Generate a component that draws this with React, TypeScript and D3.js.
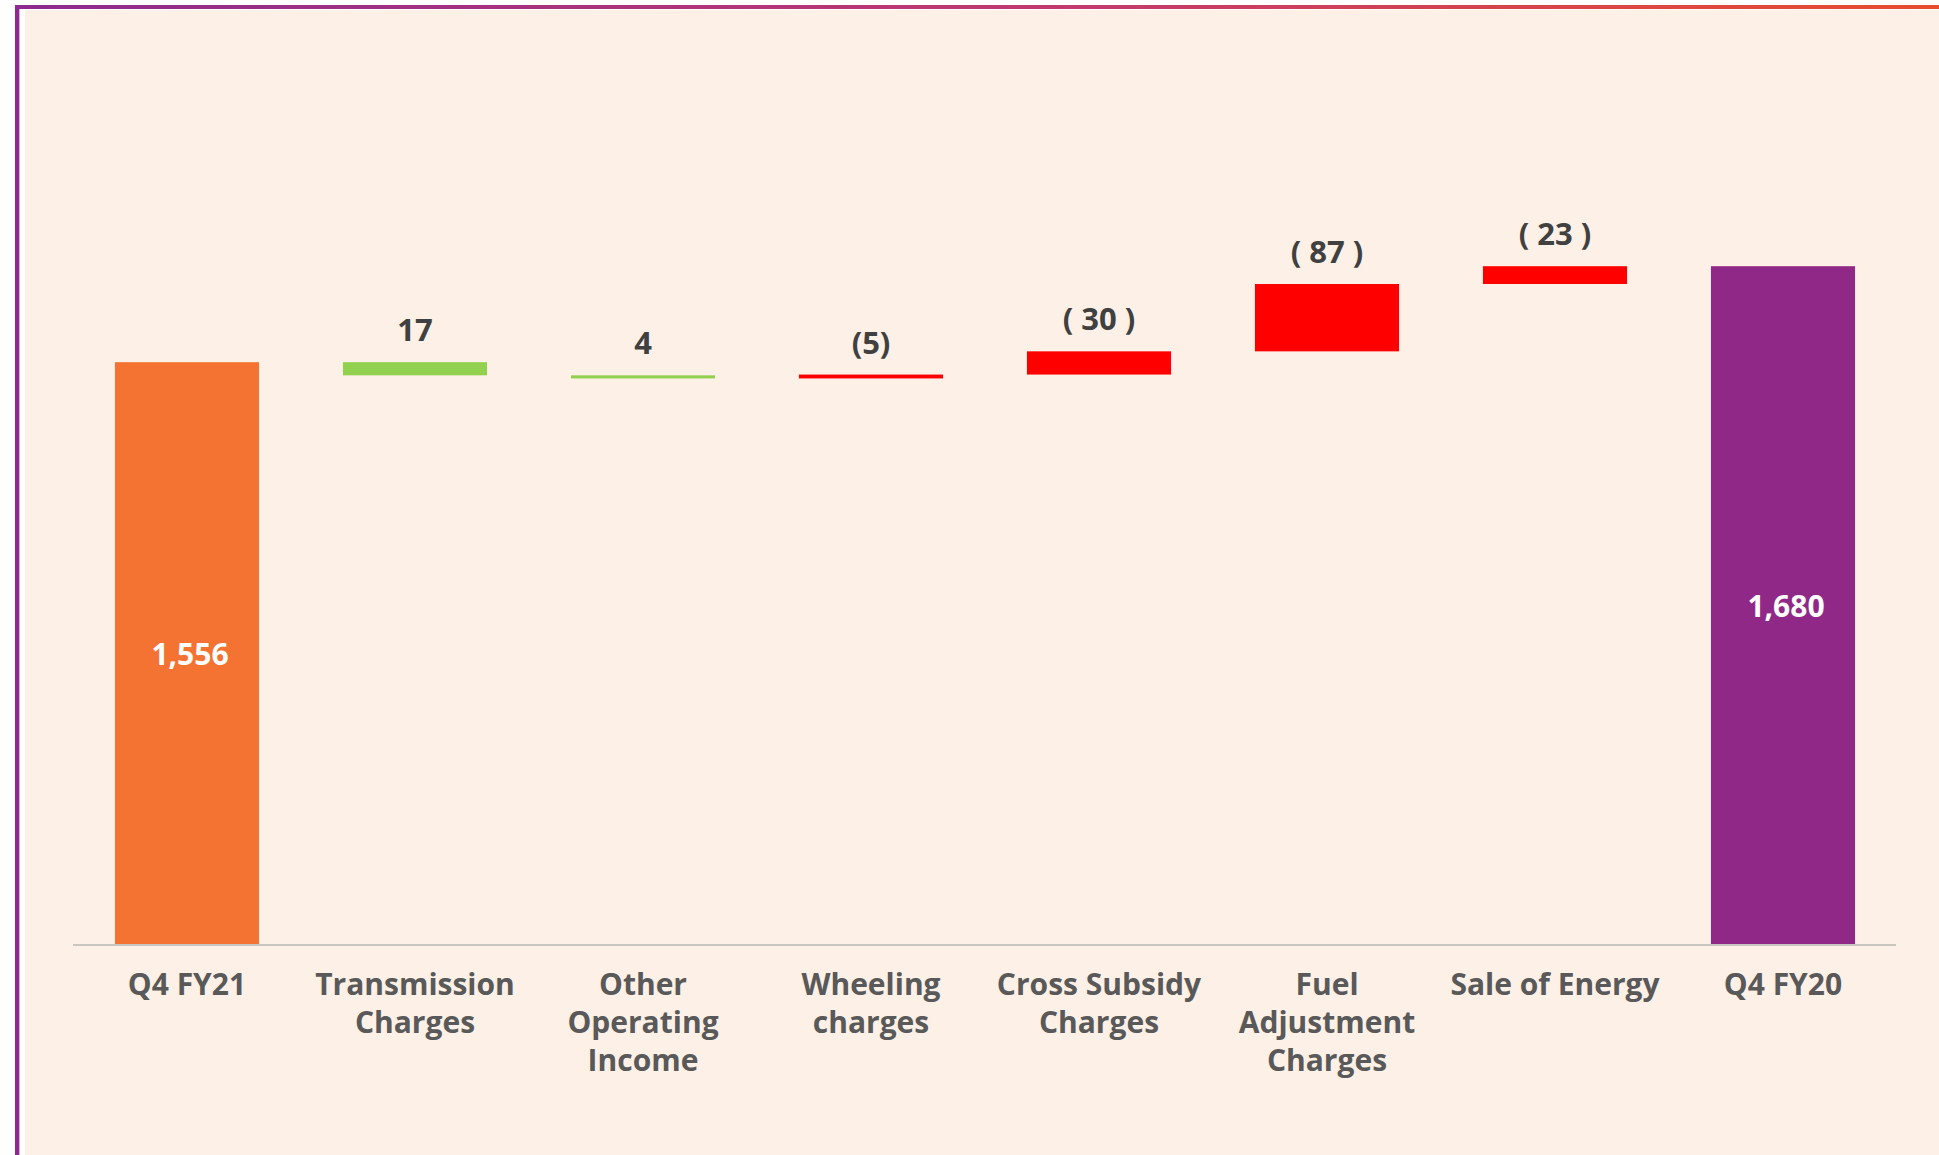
import React, { useRef, useEffect } from "react";
import * as d3 from "d3";

// bridge from Q4 FY20 (right) back to Q4 FY21 (left)
export const categories = [
  "Q4 FY21",
  "Transmission\nCharges",
  "Other\nOperating\nIncome",
  "Wheeling\ncharges",
  "Cross Subsidy\nCharges",
  "Fuel\nAdjustment\nCharges",
  "Sale of Energy",
  "Q4 FY20",
];
export const startTotal = 1556; // Q4 FY21
export const endTotal = 1680; // Q4 FY20
export const changes = [17, 4, -5, -30, -87, -23];
export const changeLabels = ["17", "4", "(5)", "( 30 )", "( 87 )", "( 23 )"];
export const totalLabels = ["1,556", "1,680"];

const FONT = "'Open Sans', sans-serif";

const App = () => {
  const ref = useRef<SVGSVGElement>(null);

  useEffect(() => {
    const width = 1939;
    const height = 1155;
    const baseY = 945;

    const svg = d3.select(ref.current);
    svg.selectAll("*").remove();
    svg.attr("width", width).attr("height", height);

    const defs = svg.append("defs");
    const grad = defs
      .append("linearGradient")
      .attr("id", "topline")
      .attr("x1", "0%")
      .attr("x2", "100%");
    grad.append("stop").attr("offset", "0%").attr("stop-color", "#8e2a8e");
    grad.append("stop").attr("offset", "55%").attr("stop-color", "#c23a6e");
    grad.append("stop").attr("offset", "100%").attr("stop-color", "#e94c2e");

    // frame
    svg.append("rect").attr("width", width).attr("height", height).attr("fill", "#ffffff");
    svg
      .append("rect")
      .attr("x", 25)
      .attr("y", 10)
      .attr("width", width - 25)
      .attr("height", height - 10)
      .attr("fill", "#fdf0e6");
    svg
      .append("rect")
      .attr("x", 15)
      .attr("y", 5)
      .attr("width", width - 15)
      .attr("height", 4)
      .attr("fill", "url(#topline)");
    svg.append("rect").attr("x", 15).attr("y", 5).attr("width", 4).attr("height", height).attr("fill", "#8e2a8e");
    svg.append("rect").attr("x", 19).attr("y", 9).attr("width", 1).attr("height", height).attr("fill", "#d9aed6");

    const x = d3.scaleBand().domain(categories).range([73, 1897]).paddingInner(0.368).paddingOuter(0.184);
    const y = d3.scaleLinear().domain([803, 1803]).range([baseY, 171]);

    // build waterfall from the right end
    const bars: { cat: string; lo: number; hi: number; color: string; label: string; total: boolean }[] = [];
    let level = endTotal;
    const mid: typeof bars = [];
    for (let i = changes.length - 1; i >= 0; i--) {
      const next = level + changes[i];
      mid.unshift({
        cat: categories[i + 1],
        lo: Math.min(level, next),
        hi: Math.max(level, next),
        color: changes[i] > 0 ? "#92d050" : "#ff0000",
        label: changeLabels[i],
        total: false,
      });
      level = next;
    }
    bars.push({ cat: categories[0], lo: 803, hi: startTotal, color: "#f47232", label: totalLabels[0], total: true });
    bars.push(...mid);
    bars.push({ cat: categories[7], lo: 803, hi: endTotal, color: "#902888", label: totalLabels[1], total: true });

    const g = svg.append("g");

    g.selectAll("rect.bar")
      .data(bars)
      .enter()
      .append("rect")
      .attr("class", "bar")
      .attr("x", (d) => x(d.cat)!)
      .attr("width", x.bandwidth())
      .attr("y", (d) => y(d.hi))
      .attr("height", (d) => Math.max(1, y(d.lo) - y(d.hi)))
      .attr("fill", (d) => d.color);

    // axis line
    svg
      .append("line")
      .attr("x1", 73)
      .attr("x2", 1896)
      .attr("y1", baseY)
      .attr("y2", baseY)
      .attr("stroke", "#c9c6c2")
      .attr("stroke-width", 2);

    // value labels
    g.selectAll("text.val")
      .data(bars.filter((d) => !d.total))
      .enter()
      .append("text")
      .attr("class", "val")
      .attr("x", (d) => x(d.cat)! + x.bandwidth() / 2)
      .attr("y", (d) => y(d.hi) - 21)
      .attr("text-anchor", "middle")
      .style("font-family", FONT)
      .style("font-size", "31px")
      .style("font-weight", "bold")
      .attr("fill", "#404040")
      .text((d) => d.label);

    g.selectAll("text.tot")
      .data(bars.filter((d) => d.total))
      .enter()
      .append("text")
      .attr("class", "tot")
      .attr("x", (d) => x(d.cat)! + x.bandwidth() / 2 + 3)
      .attr("y", (d) => (y(d.hi) + baseY) / 2 + 11)
      .attr("text-anchor", "middle")
      .style("font-family", FONT)
      .style("font-size", "30px")
      .style("font-weight", "bold")
      .attr("fill", "#ffffff")
      .text((d) => d.label);

    // category labels
    const cats = g
      .selectAll("text.cat")
      .data(categories)
      .enter()
      .append("text")
      .attr("class", "cat")
      .attr("text-anchor", "middle")
      .style("font-family", FONT)
      .style("font-size", "30px")
      .style("font-weight", "bold")
      .attr("fill", "#595959");

    cats
      .selectAll("tspan")
      .data((d) => d.split("\n").map((t) => ({ t, c: d })))
      .enter()
      .append("tspan")
      .attr("x", (d) => x(d.c)! + x.bandwidth() / 2)
      .attr("y", (d, i) => 995 + i * 38)
      .text((d) => d.t);
  }, []);

  return <svg ref={ref} style={{ position: "absolute", left: 0, top: 0, display: "block" }}></svg>;
};

export default App;
